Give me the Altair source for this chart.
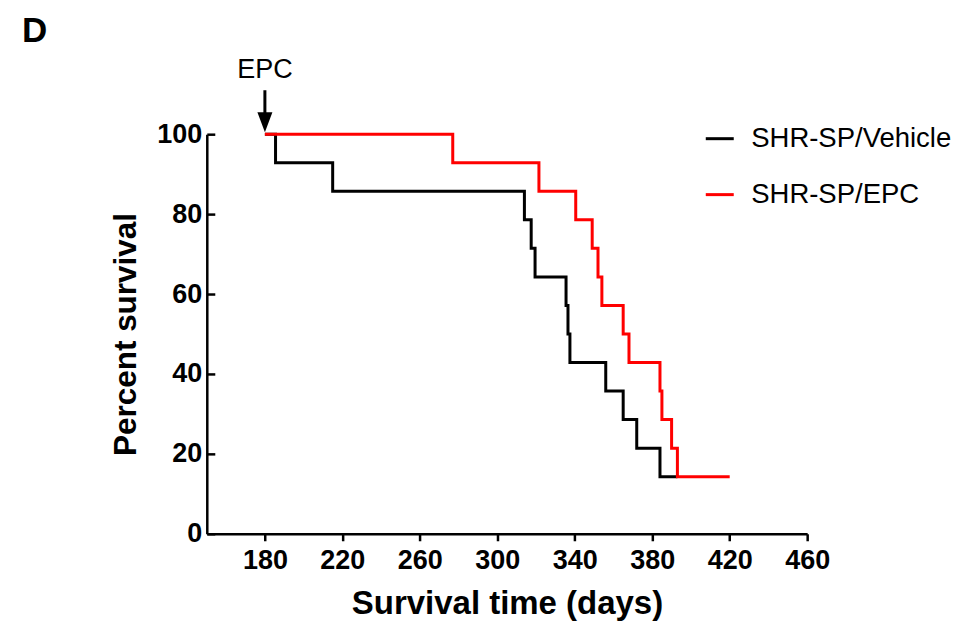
import altair as alt
import pandas as pd

# ---- data ----
series_names = ["SHR-SP/Vehicle", "SHR-SP/EPC"]
series_colors = ["#000000", "#ff0000"]

vehicle_days = [180, 185.5, 215, 314, 317.5, 319.5, 335.5, 336.5, 337.5, 356, 365, 372, 384, 393]
vehicle_surv = [100, 92.86, 85.71, 78.57, 71.43, 64.29, 57.14, 50.0, 42.86, 35.71, 28.57, 21.43, 14.29, 14.29]

epc_days = [180, 277, 321.5, 340.5, 349, 352, 354, 365, 368, 384, 385, 390, 393, 420]
epc_surv = [100, 92.86, 85.71, 78.57, 71.43, 64.29, 57.14, 50.0, 42.86, 35.71, 28.57, 21.43, 14.29, 14.29]

x_ticks = [180, 220, 260, 300, 340, 380, 420, 460]
y_ticks = [0, 20, 40, 60, 80, 100]
x_domain = [150, 460]
y_domain = [0, 100]

# EPC injection annotation (day, and heights in percent units above the 100% line)
epc_day = [180]
epc_label = ["EPC"]
epc_label_y = [114]
arrow_top = [111]
arrow_bottom = [104.5]
arrow_head_y = [103]

FONT = "Liberation Sans"
W, H = 601, 400

df_veh = pd.DataFrame({"day": vehicle_days, "surv": vehicle_surv, "series": series_names[0]})
df_epc = pd.DataFrame({"day": epc_days, "surv": epc_surv, "series": series_names[1]})
df_arrow = pd.DataFrame({"day": epc_day, "y1": arrow_top, "y2": arrow_bottom,
                         "head": arrow_head_y, "ly": epc_label_y, "label": epc_label})

x_enc = alt.X("day:Q", scale=alt.Scale(domain=x_domain, nice=False, zero=False),
              axis=alt.Axis(values=x_ticks, title="Survival time (days)", grid=False,
                            domainColor="black", domainWidth=2.5, tickColor="black",
                            tickWidth=2.5, tickSize=7, labelFont=FONT, labelFontSize=27,
                            labelFontWeight="bold", labelColor="black", labelPadding=7,
                            labelFlush=False, titleFont=FONT, titleFontSize=33,
                            titleFontWeight="bold", titleColor="black", titlePadding=14))
y_scale = alt.Scale(domain=y_domain, nice=False, zero=True)

color_enc = alt.Color("series:N",
                      scale=alt.Scale(domain=series_names, range=series_colors),
                      legend=alt.Legend(title=None, orient="none", legendX=498, legendY=-11,
                                        symbolType="stroke", symbolSize=784,
                                        symbolStrokeWidth=3, labelFont=FONT,
                                        labelFontSize=27.5, labelColor="black", labelLimit=0,
                                        labelOffset=16, rowPadding=27, padding=0))

veh = alt.Chart(df_veh).mark_line(interpolate="step-after", strokeWidth=3).encode(
    x=x_enc,
    y=alt.Y("surv:Q", scale=y_scale,
            axis=alt.Axis(values=y_ticks, title="Percent survival", grid=False,
                          domainColor="black", domainWidth=2.5, ticks=False, tickSize=0,
                          labelFont=FONT, labelFontSize=27, labelFontWeight="bold",
                          labelColor="black", labelPadding=5, labelFlush=False,
                          titleFont=FONT, titleFontSize=31.5, titleFontWeight="bold",
                          titleColor="black", titlePadding=14)),
    color=color_enc,
)

epc = alt.Chart(df_epc).mark_line(interpolate="step-after", strokeWidth=3).encode(
    x=x_enc,
    y=alt.Y("surv:Q", scale=y_scale,
            axis=alt.Axis(orient="right", offset=-W, values=y_ticks, title=None,
                          grid=False, domain=False, labels=False, ticks=True,
                          tickSize=8, tickWidth=2.5, tickColor="black")),
    color=color_enc,
)

shaft = alt.Chart(df_arrow).mark_rule(strokeWidth=3, color="black").encode(
    x=x_enc,
    y=alt.Y("y1:Q", scale=y_scale, axis=None),
    y2="y2:Q",
)

head = alt.Chart(df_arrow).mark_point(
    shape="M-0.75,-1 L0.75,-1 L0,1 Z", size=400, filled=True, color="black", opacity=1
).encode(
    x=x_enc,
    y=alt.Y("head:Q", scale=y_scale, axis=None),
)

label = alt.Chart(df_arrow).mark_text(font=FONT, fontSize=27, color="black",
                                      baseline="alphabetic", align="center").encode(
    x=x_enc,
    y=alt.Y("ly:Q", scale=y_scale, axis=None),
    text="label:N",
)

chart = alt.layer(veh, epc, shaft, head, label).resolve_axis(y="independent").properties(
    width=W, height=H,
    padding={"left": 199, "top": 126, "right": 158, "bottom": 89},
    autosize=alt.AutoSizeParams(type="none"),
    title=alt.TitleParams("D", anchor="start", frame="group", font=FONT, fontSize=35,
                          fontWeight="bold", color="black", dx=-185, dy=-3),
).configure_view(stroke=None)

chart.save("out.html", embed_options={"renderer": "svg", "actions": False})
